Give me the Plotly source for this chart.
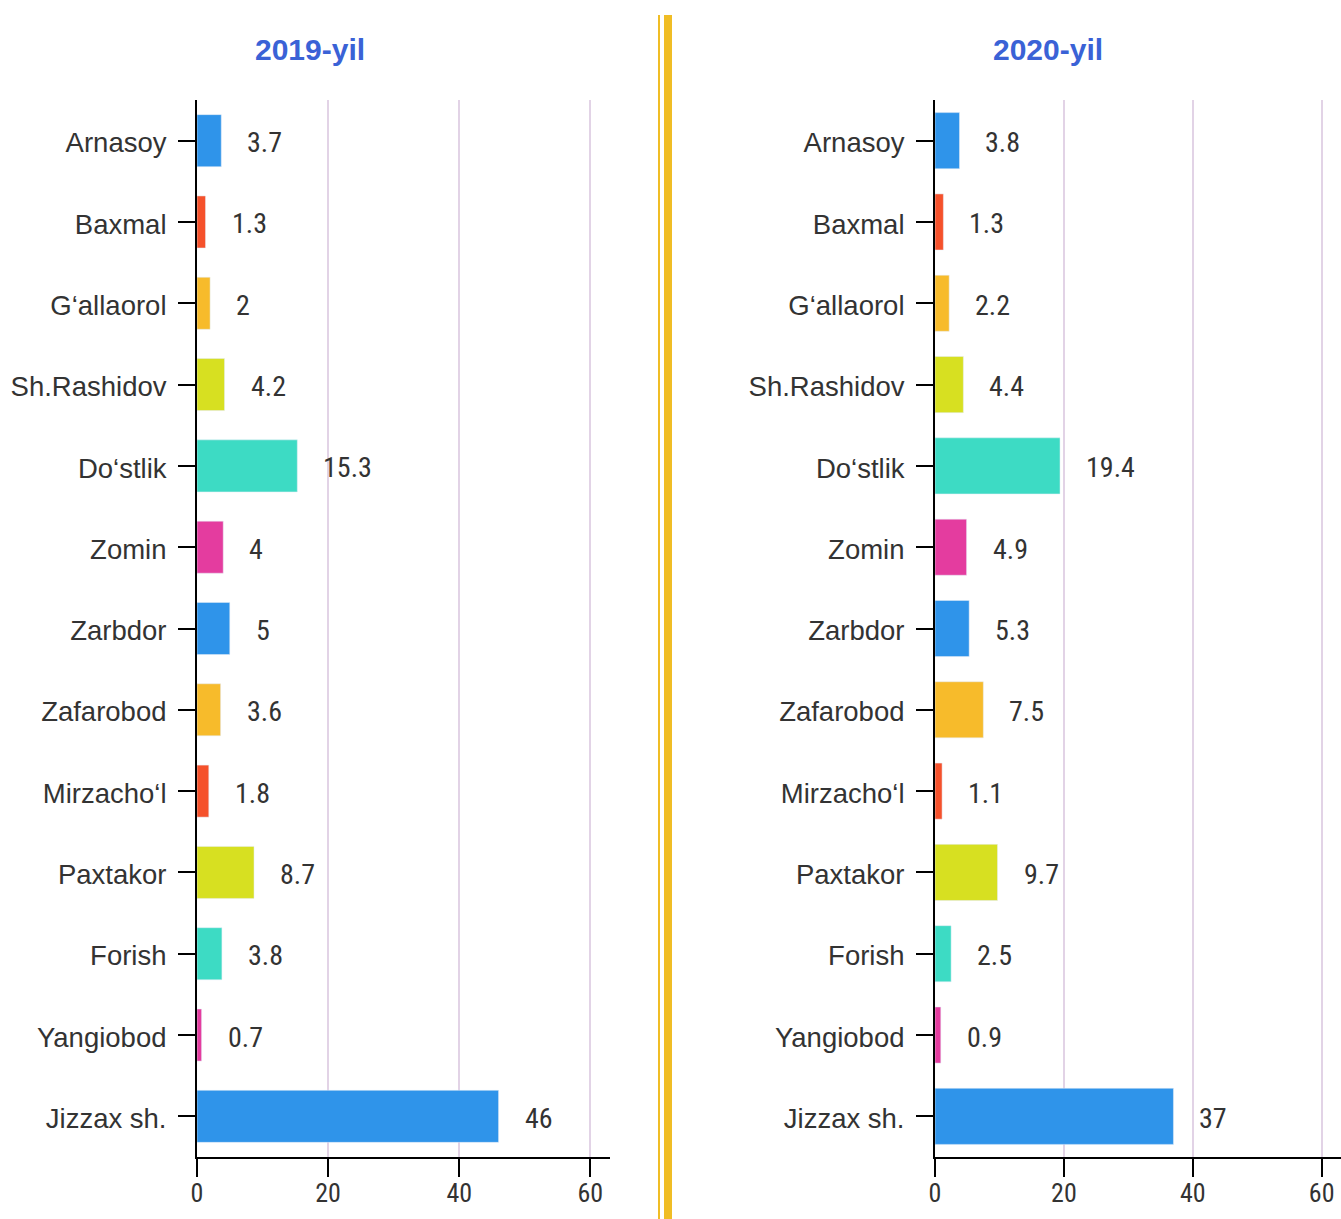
import plotly.graph_objects as go

W, H = 1341, 1219

categories = ["Arnasoy", "Baxmal", "G‘allaorol", "Sh.Rashidov", "Do‘stlik", "Zomin",
              "Zarbdor", "Zafarobod", "Mirzacho‘l", "Paxtakor", "Forish", "Yangiobod",
              "Jizzax sh."]
values_2019 = [3.7, 1.3, 2, 4.2, 15.3, 4, 5, 3.6, 1.8, 8.7, 3.8, 0.7, 46]
values_2020 = [3.8, 1.3, 2.2, 4.4, 19.4, 4.9, 5.3, 7.5, 1.1, 9.7, 2.5, 0.9, 37]
bar_colors = ["#2f94ea", "#f5512b", "#f7bb2b", "#d7e021", "#3ddbc4", "#e43c9f",
              "#2f94ea", "#f7bb2b", "#f5512b", "#d7e021", "#3ddbc4", "#e43c9f",
              "#2f94ea"]
titles = ["2019-yil", "2020-yil"]
x_ticks = [0, 20, 40, 60]

COND = "Roboto Condensed, Liberation Sans Narrow, DejaVu Sans Condensed, Roboto, sans-serif"
SANS = "Liberation Sans, Arial, sans-serif"

fig = go.Figure()
fig.add_trace(go.Bar(x=values_2019, y=categories, orientation="h", marker=dict(color=bar_colors),
                     width=0.64, xaxis="x", yaxis="y", hoverinfo="x+y"))
fig.add_trace(go.Bar(x=values_2020, y=categories, orientation="h", marker=dict(color=bar_colors),
                     width=0.69, xaxis="x2", yaxis="y2", hoverinfo="x+y"))

annotations = []
for axn, vals in (("", values_2019), ("2", values_2020)):
    for c, v in zip(categories, vals):
        annotations.append(dict(x=v, y=c, xref="x" + axn, yref="y" + axn, text=f"{v:g}",
                                showarrow=False, xanchor="left", yanchor="middle",
                                xshift=24, yshift=-2,
                                font=dict(family=COND, size=28, color="#333333")))
for t, xc in zip(titles, [309.5 / W, 1047.5 / W]):
    annotations.append(dict(x=xc, y=1 - 50 / H, xref="paper", yref="paper", text=f"<b>{t}</b>",
                            showarrow=False, xanchor="center", yanchor="middle",
                            font=dict(family=SANS, size=30, color="#3a62d6")))

ydom = [1 - 1157 / H, 1 - 100 / H]
xaxis_common = dict(range=[0, 63], tickvals=x_ticks, showgrid=True, gridcolor="#e2d3e6", gridwidth=2,
                    zeroline=False, showline=True, linecolor="black", linewidth=2,
                    ticks="outside", ticklen=18, tickwidth=2, tickcolor="black",
                    ticklabelstandoff=-6, automargin=False,
                    tickfont=dict(family=COND, size=26, color="#333333"), fixedrange=True)
yaxis_common = dict(autorange="reversed", showgrid=False, zeroline=False, showline=True,
                    linecolor="black", linewidth=2, ticks="outside", ticklen=17, tickwidth=2,
                    tickcolor="black", ticklabelstandoff=6, ticklabelshift=-2, automargin=False,
                    tickfont=dict(family=SANS, size=27.5, color="#333333"), domain=ydom,
                    fixedrange=True)

fig.update_layout(
    width=W, height=H, margin=dict(l=0, r=0, t=0, b=0, autoexpand=False),
    paper_bgcolor="white", plot_bgcolor="white", showlegend=False, bargap=0.3,
    xaxis=dict(domain=[197 / W, 610 / W], anchor="y", **xaxis_common),
    xaxis2=dict(domain=[935 / W, 1.0], anchor="y2", **xaxis_common),
    yaxis=dict(anchor="x", **yaxis_common),
    yaxis2=dict(anchor="x2", **yaxis_common),
    annotations=annotations,
    shapes=[
        dict(type="rect", xref="paper", yref="paper", x0=658 / W, x1=660 / W, y0=0, y1=1 - 15 / H,
             line=dict(width=0), fillcolor="#f0bd25"),
        dict(type="rect", xref="paper", yref="paper", x0=664 / W, x1=672 / W, y0=0, y1=1 - 15 / H,
             line=dict(width=0), fillcolor="#f0bd25"),
    ],
)

fig.write_html("out.html", post_script="document.body.style.margin='0';",
               config={"displayModeBar": False})
